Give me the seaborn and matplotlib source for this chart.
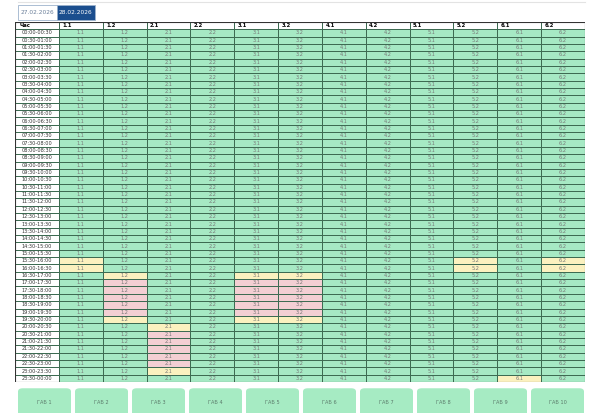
import numpy as np
import pandas as pd
import seaborn as sns
import matplotlib.pyplot as plt
from matplotlib.colors import ListedColormap
from matplotlib.patches import FancyBboxPatch, Rectangle

columns = ['1.1', '1.2', '2.1', '2.2', '3.1', '3.2', '4.1', '4.2', '5.1', '5.2', '6.1', '6.2']
times = ['{:02d}:{:02d}-{:02d}:{:02d}'.format(i // 2, 30 * (i % 2), (i + 1) // 2 % 24, 30 * ((i + 1) % 2))
         for i in range(48)]
dates = ['27.02.2026', '28.02.2026']
tabs = ['ГАБ {}'.format(i) for i in range(1, 11)]

# status: 0 ok, 1 warning, 2 alarm
yellow_cells = {'1.1': [31, 32], '1.2': [33, 39], '3.1': [33, 39], '3.2': [33, 39],
                '2.1': [40, 46], '5.2': [31, 32], '6.2': [31, 32], '6.1': [47]}
red_cells = {'1.2': [34, 35, 36, 37, 38], '3.1': [34, 35, 36, 37, 38],
             '3.2': [34, 35, 36, 37, 38], '2.1': [41, 42, 43, 44, 45]}

status = pd.DataFrame(0, index=times, columns=columns)
for c, rows in yellow_cells.items():
    status.iloc[rows, columns.index(c)] = 1
for c, rows in red_cells.items():
    status.iloc[rows, columns.index(c)] = 2

# header row + time column, 3 = white
grid = np.full((49, 13), 3)
grid[1:, 1:] = status.values
annot = np.full((49, 13), '', dtype=object)
annot[1:, 0] = times
for j, c in enumerate(columns):
    annot[1:, j + 1] = c

cmap = ListedColormap(['#a6e9c4', '#fbf1bf', '#f3cfd3', '#ffffff'])

fig = plt.figure(figsize=(6, 4.13), dpi=100)
ax = fig.add_axes([0.025, 0.075, 0.95, 0.872])
sns.heatmap(grid, cmap=cmap, vmin=-0.5, vmax=3.5, cbar=False, annot=annot, fmt='',
            annot_kws={'fontsize': 3.6, 'color': '#777777'},
            linewidths=0.6, linecolor='#3d6b52', ax=ax)
for t in ax.texts:
    if ':' in t.get_text():
        t.set_color('#333333')
ax.set_xticks([])
ax.set_yticks([])
ax.text(0.1, 0.5, 'Час', ha='left', va='center', fontsize=3.8, fontweight='bold')
for j, c in enumerate(columns):
    ax.text(j + 1.08, 0.5, c, ha='left', va='center', fontsize=3.8, fontweight='bold')
ax.add_patch(Rectangle((0, 0), 13, 49, fill=False, edgecolor='#333333', lw=0.8))

# date selector
fig.add_artist(plt.Line2D([0.03, 0.975], [0.995, 0.995], color='#e3e3e3', lw=0.8))
for i, d in enumerate(dates):
    x0 = (18 + 38.5 * i) / 600
    fc = '#1b4e8e' if i == 1 else 'white'
    tc = 'white' if i == 1 else '#6a7f9a'
    fig.add_artist(Rectangle((x0, 1 - 20 / 413), 38.5 / 600, 15 / 413, facecolor=fc,
                             edgecolor='#9db3cc', lw=0.6))
    fig.text(x0 + 19.25 / 600, 1 - 12.5 / 413, d, ha='center', va='center', fontsize=4.2, color=tc)

# bottom tabs
for i, t in enumerate(tabs):
    x0 = (18 + 57 * i) / 600
    fig.add_artist(FancyBboxPatch((x0, -0.02), 53 / 600, 33 / 413,
                                  boxstyle='round,pad=0,rounding_size=0.008',
                                  facecolor='#a6ebc3', edgecolor='none'))
    fig.text(x0 + 26.5 / 600, 1 - 402 / 413, t, ha='center', va='center', fontsize=3.6, color='#5a7a6a')

fig.savefig('out.png', dpi=100)
